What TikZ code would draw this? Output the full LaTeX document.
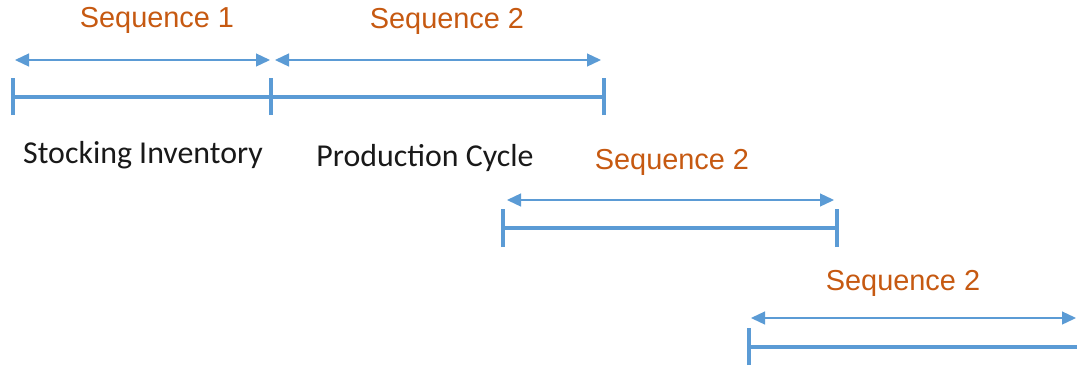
\documentclass[tikz,border=0pt]{standalone}
\usepackage{fontspec}
\setmainfont{Carlito}
\newfontfamily\seqfont{Liberation Sans}
\usetikzlibrary{positioning}
\usetikzlibrary{arrows.meta}

\definecolor{barblue}{HTML}{5B9BD5}
\definecolor{seqorange}{HTML}{C65911}

\begin{document}
\begin{tikzpicture}[x=1bp,y=-1bp,
    seqlabel/.style={text=seqorange, font=\seqfont\fontsize{29}{32}\selectfont, inner sep=0},
    phaselabel/.style={text=black!90, font=\fontsize{32}{36}\selectfont, inner sep=0},
    bar/.style={barblue, line width=3.5bp},
    tick/.style={barblue, line width=3.5bp},
    span/.style={barblue, line width=1.3bp, {Triangle[length=14bp,width=13bp]}-{Triangle[length=14bp,width=13bp]}}]
    \useasboundingbox (0,0) rectangle (1077,365);

    % first row
    \coordinate (b1) at (13,97);
    \coordinate (b2) at (271,97);
    \coordinate (b3) at (604,97);
    \draw[bar] (b1) -- (b3);
    \foreach \t in {b1,b2,b3}
        \draw[tick] ([yshift=-18bp]\t) -- ([yshift=19bp]\t);
    \coordinate (a1) at (15,60);
    \coordinate (a2) at (270,60);
    \coordinate (a3) at (275,60);
    \coordinate (a4) at (601,60);
    \draw[span] (a1) -- (a2);
    \draw[span] (a3) -- (a4);
    \node[seqlabel] (s1) at (157,20) {Sequence 1};
    \node[seqlabel] (s2) at (447,21) {Sequence 2};
    \node[phaselabel] (stock) at (143,155) {Stocking Inventory};
    \node[phaselabel] (prod) at (425,158) {Production Cycle};

    % second row
    \coordinate (c1) at (503,228);
    \coordinate (c2) at (837,228);
    \draw[bar] (c1) -- (c2);
    \foreach \t in {c1,c2}
        \draw[tick] ([yshift=-19bp]\t) -- ([yshift=19bp]\t);
    \coordinate (d1) at (507,200);
    \coordinate (d2) at (834,200);
    \draw[span] (d1) -- (d2);
    \node[seqlabel] (s3) at (672,162) {Sequence 2};

    % third row
    \coordinate (e1) at (749,347);
    \coordinate (e2) at (1077,347);
    \draw[bar] (e1) -- (e2);
    \draw[tick] ([yshift=-18bp]e1) -- ([yshift=19bp]e1);
    \coordinate (f1) at (751,318);
    \coordinate (f2) at (1076,318);
    \draw[span] (f1) -- (f2);
    \node[seqlabel] (s4) at (903,283) {Sequence 2};
\end{tikzpicture}
\end{document}
